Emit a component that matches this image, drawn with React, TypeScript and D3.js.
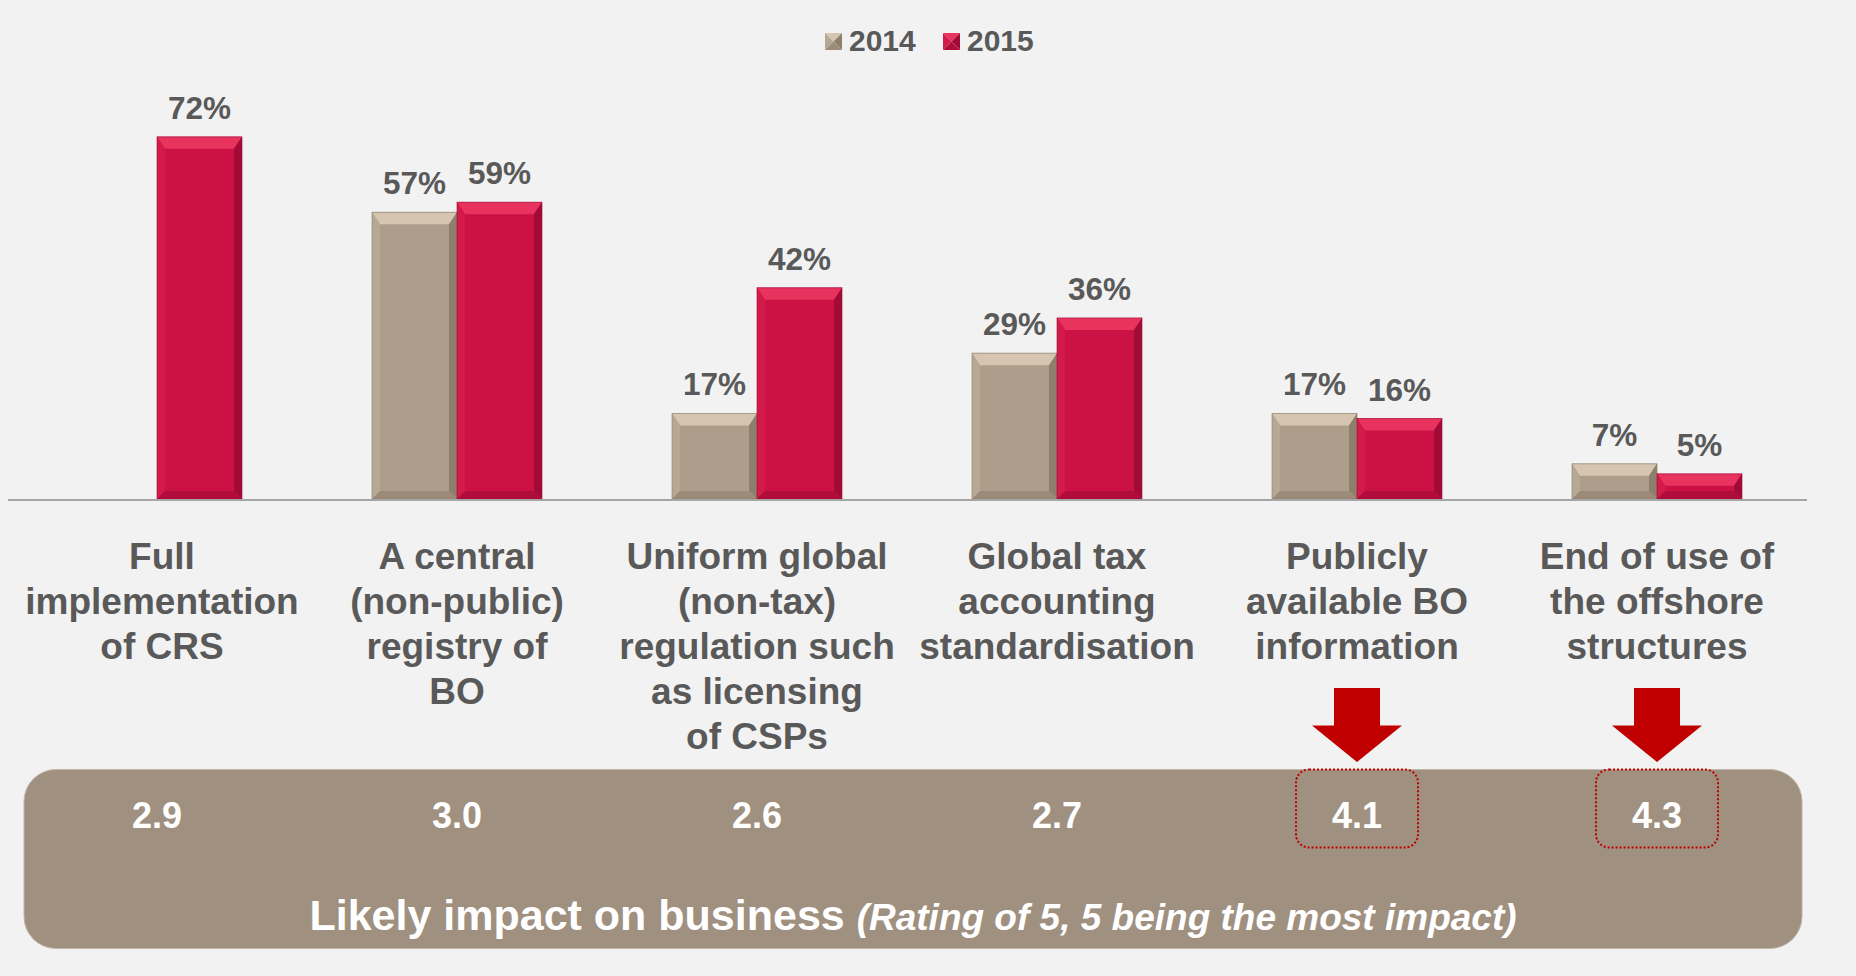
import React from 'react'
import * as d3 from 'd3'

const categoryLines = [
  ['Full', 'implementation', 'of CRS'],
  ['A central', '(non-public)', 'registry of', 'BO'],
  ['Uniform global', '(non-tax)', 'regulation such', 'as licensing', 'of CSPs'],
  ['Global tax', 'accounting', 'standardisation'],
  ['Publicly', 'available BO', 'information'],
  ['End of use of', 'the offshore', 'structures']
]
const seriesNames = ['2014', '2015']
const values2014 = [null, 57, 17, 29, 17, 7]
const values2015 = [72, 59, 42, 36, 16, 5]
const impactScores = [2.9, 3.0, 2.6, 2.7, 4.1, 4.3]

const W = 1856
const H = 976
const FONT = '"Liberation Sans", Arial, Helvetica, sans-serif'
const GREY = '#595959'
const ARROW_RED = '#c00000'

const palettes = {
  '2014': { base: '#ad9e8b', top: '#d5c5b1', left: '#b7a894', right: '#8e7f6d', bottom: '#9b8b78', edge: '#8a7b69' },
  '2015': { base: '#cc1144', top: '#e8335f', left: '#d4194b', right: '#a20b35', bottom: '#b00d3c', edge: '#9e0c36' }
}

function BevelBar({ x, y, w, h, pal }) {
  const bt = Math.min(12, h / 2)
  const b = Math.min(8, h / 2, w / 2)
  const pts = arr => arr.map(p => p.join(',')).join(' ')
  return (
    <g>
      <rect x={x} y={y} width={w} height={h} fill={pal.base} />
      <polygon points={pts([[x, y], [x + w, y], [x + w - b, y + bt], [x + b, y + bt]])} fill={pal.top} />
      <polygon points={pts([[x, y], [x + b, y + bt], [x + b, y + h - b], [x, y + h]])} fill={pal.left} />
      <polygon points={pts([[x + w, y], [x + w, y + h], [x + w - b, y + h - b], [x + w - b, y + bt]])} fill={pal.right} />
      <polygon points={pts([[x, y + h], [x + b, y + h - b], [x + w - b, y + h - b], [x + w, y + h]])} fill={pal.bottom} />
      <rect x={x} y={y} width={w} height={h} fill="none" stroke={pal.edge} strokeWidth={1} opacity={0.6} />
    </g>
  )
}

function PyramidSwatch({ x, y, s, pal }) {
  const c = [x + s / 2, y + s / 2]
  const pts = arr => arr.map(p => p.join(',')).join(' ')
  return (
    <g>
      <polygon points={pts([[x, y], [x + s, y], c])} fill={pal.top} />
      <polygon points={pts([[x, y], c, [x, y + s]])} fill={pal.left} />
      <polygon points={pts([[x + s, y], [x + s, y + s], c])} fill={pal.right} />
      <polygon points={pts([[x, y + s], c, [x + s, y + s]])} fill={pal.bottom} />
    </g>
  )
}

export default function App() {
  const keys = categoryLines.map((_, i) => String(i))
  const x0 = d3.scaleBand().domain(keys).range([7, 1807])
  const x1 = d3.scaleBand().domain(seriesNames).range([0, 170])
  const y = d3.scaleLinear().domain([0, 80]).range([499, 96.6])
  const groupLeft = i => x0(String(i)) + (x0.bandwidth() - 170) / 2
  const center = i => x0(String(i)) + x0.bandwidth() / 2

  const seriesValues = { '2014': values2014, '2015': values2015 }

  const arrowPath = cx => {
    const p = d3.path()
    p.moveTo(cx - 23, 688)
    p.lineTo(cx + 23, 688)
    p.lineTo(cx + 23, 725.5)
    p.lineTo(cx + 45, 725.5)
    p.lineTo(cx, 762)
    p.lineTo(cx - 45, 725.5)
    p.lineTo(cx - 23, 725.5)
    p.closePath()
    return p.toString()
  }

  return (
    <svg width={W} height={H} style={{ position: 'absolute', left: 0, top: 0, display: 'block' }} fontFamily={FONT}>
      <rect x={0} y={0} width={W} height={H} fill="#f2f2f2" />

      {/* legend */}
      {seriesNames.map((s, i) => (
        <g key={s} transform={`translate(${825 + i * 118},0)`}>
          <PyramidSwatch x={0} y={33} s={17} pal={palettes[s]} />
          <text x={24} y={50.5} fontSize={30} fontWeight="bold" fill={GREY}>{s}</text>
        </g>
      ))}

      {/* bars */}
      {seriesNames.map(s =>
        seriesValues[s].map((v, i) => {
          if (v == null) return null
          const bx = groupLeft(i) + x1(s)
          const by = y(v)
          return (
            <g key={s + i}>
              <BevelBar x={bx} y={by} w={x1.bandwidth()} h={y(0) - by} pal={palettes[s]} />
              <text x={bx + x1.bandwidth() / 2} y={by - 18} textAnchor="middle" fontSize={31.5} fontWeight="bold" fill={GREY}>
                {v}%
              </text>
            </g>
          )
        })
      )}

      {/* baseline */}
      <line x1={8} x2={1807} y1={y(0) + 1} y2={y(0) + 1} stroke="#a6a6a6" strokeWidth={2} />

      {/* category labels */}
      {categoryLines.map((lines, i) => (
        <text key={i} x={center(i) + (i === 0 ? 5 : 0)} y={569} textAnchor="middle" fontSize={37} fontWeight="bold" fill={GREY}>
          {lines.map((l, j) => (
            <tspan key={j} x={center(i) + (i === 0 ? 5 : 0)} dy={j === 0 ? 0 : 45}>{l}</tspan>
          ))}
        </text>
      ))}

      {/* impact panel */}
      <rect x={24} y={769.5} width={1778} height={179} rx={32} ry={32} fill="#a09080" stroke="#c2b6a9" strokeWidth={1} />
      {impactScores.map((v, i) => (
        <text key={i} x={center(i)} y={828} textAnchor="middle" fontSize={36} fontWeight="bold" fill="#ffffff">
          {v.toFixed(1)}
        </text>
      ))}
      {impactScores.map((v, i) =>
        v >= 4 ? (
          <g key={'hl' + i}>
            <path d={arrowPath(center(i))} fill={ARROW_RED} />
            <rect x={center(i) - 61} y={769.5} width={122} height={78} rx={13} ry={13} fill="none"
              stroke={ARROW_RED} strokeWidth={2} strokeDasharray="2 2" />
          </g>
        ) : null
      )}
      <text x={913} y={930} textAnchor="middle" fill="#ffffff" fontWeight="bold">
        <tspan fontSize={43}>Likely impact on business </tspan>
        <tspan fontSize={37} fontStyle="italic">(Rating of 5, 5 being the most impact)</tspan>
      </text>
    </svg>
  )
}
